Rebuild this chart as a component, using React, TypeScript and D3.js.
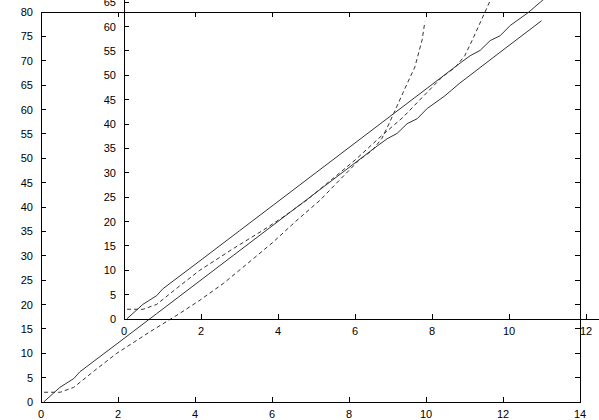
import React, { useEffect, useRef } from "react";
import * as d3 from "d3";

// tick values shared by both panels
const xTicks = [0, 2, 4, 6, 8, 10, 12, 14];
const yTicks = [0, 5, 10, 15, 20, 25, 30, 35, 40, 45, 50, 55, 60, 65, 70, 75, 80];

// solid curve
const solidX = [0.07, 0.49, 0.85, 1.01, 2.0, 3.0, 4.0, 5.0, 6.0, 7.0, 8.0, 8.73, 8.99, 9.25, 9.51, 9.77, 10.03, 10.49, 10.86, 12.0, 13.0];
const solidY = [0, 3.0, 4.8, 6.2, 12.1, 18.1, 24.1, 30.1, 36.1, 42.1, 48.1, 52.5, 54.0, 55.1, 57.1, 58.1, 60.2, 62.8, 65.3, 72.2, 78.2];

// dashed curve
const dashedX = [0.08, 0.5, 0.85, 1.4, 1.97, 2.83, 3.61, 4.13, 4.75, 5.5, 6.03, 6.65, 7.25, 7.8, 8.26, 8.6, 8.85, 9.04, 9.19, 9.51, 9.71, 9.9, 9.97];
const dashedY = [2.0, 2.0, 3.0, 6.5, 10.0, 14.4, 18.2, 20.9, 24.4, 29.3, 32.8, 37.3, 41.4, 45.9, 49.6, 51.6, 54.0, 57.1, 59.7, 65.3, 68.7, 74.3, 78.0];

const W = 599;
const H = 420;

const App = () => {
  const svgRef = useRef<SVGSVGElement>(null);

  useEffect(() => {
    const svg = d3.select(svgRef.current);
    svg.selectAll("*").remove();

    const solid = solidX.map((x, i) => [x, solidY[i]] as [number, number]);
    const dashed = dashedX.map((x, i) => [x, dashedY[i]] as [number, number]);

    // draws one gnuplot-like panel; the inset is the same plot shifted up/right
    const drawPanel = (ox: number, oy: number, id: string) => {
      const x = d3.scaleLinear().domain([0, 14]).range([41 + ox, 580 + ox]);
      const y = d3.scaleLinear().domain([0, 80]).range([402 + oy, 12 + oy]);
      const g = svg.append("g");

      g.append("clipPath").attr("id", id)
        .append("rect")
        .attr("x", x(0)).attr("y", y(80))
        .attr("width", x(14) - x(0)).attr("height", y(0) - y(80));

      const line = d3.line<[number, number]>().x(d => x(d[0])).y(d => y(d[1]));

      g.append("path").datum(solid)
        .attr("d", line)
        .attr("clip-path", `url(#${id})`)
        .attr("fill", "none").attr("stroke", "#333").attr("stroke-width", 1);

      g.append("path").datum(dashed)
        .attr("d", line)
        .attr("clip-path", `url(#${id})`)
        .attr("fill", "none").attr("stroke", "#333").attr("stroke-width", 1)
        .attr("stroke-dasharray", "4,3");

      const axes = g.append("g").attr("shape-rendering", "crispEdges");

      // border
      axes.append("rect")
        .attr("x", x(0)).attr("y", y(80))
        .attr("width", x(14) - x(0)).attr("height", y(0) - y(80))
        .attr("fill", "none").attr("stroke", "#000").attr("stroke-width", 1);

      const tickLen = 5;
      // x ticks bottom and top (mirror)
      xTicks.forEach(t => {
        axes.append("line")
          .attr("x1", x(t)).attr("x2", x(t))
          .attr("y1", y(0)).attr("y2", y(0) - tickLen)
          .attr("stroke", "#000");
        axes.append("line")
          .attr("x1", x(t)).attr("x2", x(t))
          .attr("y1", y(80)).attr("y2", y(80) + tickLen)
          .attr("stroke", "#000");
        g.append("text")
          .attr("x", x(t)).attr("y", y(0) + 16)
          .attr("text-anchor", "middle")
          .attr("font-family", "Liberation Sans, Arial, sans-serif")
          .attr("font-size", 11)
          .text(t);
      });

      // y ticks left and right (mirror)
      yTicks.forEach(t => {
        axes.append("line")
          .attr("x1", x(0)).attr("x2", x(0) + tickLen)
          .attr("y1", y(t)).attr("y2", y(t))
          .attr("stroke", "#000");
        axes.append("line")
          .attr("x1", x(14)).attr("x2", x(14) - tickLen)
          .attr("y1", y(t)).attr("y2", y(t))
          .attr("stroke", "#000");
        g.append("text")
          .attr("x", x(0) - 8).attr("y", y(t) + 4)
          .attr("text-anchor", "end")
          .attr("font-family", "Liberation Sans, Arial, sans-serif")
          .attr("font-size", 11)
          .text(t);
      });
    };

    drawPanel(0, 0, "clip-outer");
    drawPanel(83, -83, "clip-inner");
  }, []);

  return (
    <svg
      ref={svgRef}
      width={W}
      height={H}
      style={{ position: "absolute", left: 0, top: 0, background: "#fff" }}
    />
  );
};

export default App;
